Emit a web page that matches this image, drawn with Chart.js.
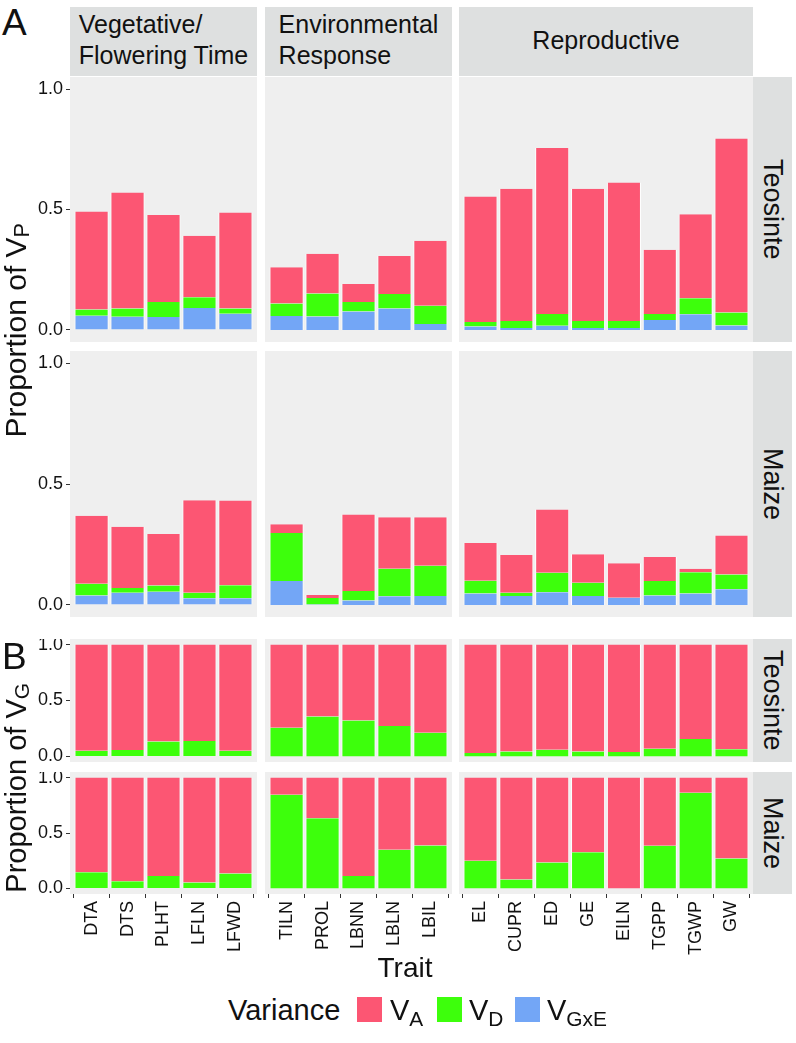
<!DOCTYPE html>
<html><head><meta charset="utf-8">
<script src="https://cdn.jsdelivr.net/npm/chart.js@4/dist/chart.umd.min.js"></script>
<style>
html,body{margin:0;padding:0;background:#fff}
body{width:796px;height:1043px;position:relative;overflow:hidden;font-family:"Liberation Sans",Arial,Helvetica,sans-serif;color:#111}
.abs{position:absolute;white-space:nowrap;line-height:1}
.cstrip{position:absolute;background:#DEE0E0;display:flex;align-items:center;justify-content:center;font-size:25px;line-height:31px;padding-bottom:3px;box-sizing:border-box}
.cstrip div{text-align:left}
.rstrip{position:absolute;background:#DEE0E0;display:flex;align-items:center;justify-content:center;font-size:27px}
.rstrip span{writing-mode:vertical-rl;line-height:1}
.ytitle{position:absolute;display:flex;align-items:center;justify-content:center;font-size:30px}
.ytitle span.t{writing-mode:vertical-rl;transform:rotate(180deg);line-height:1;white-space:nowrap}
.ytitle .vsub{font-size:0.72em;vertical-align:-0.28em}
.sub{font-size:0.72em;position:relative;top:0.28em}
.key{position:absolute;width:25px;height:25px}
canvas{position:absolute}
</style></head><body>
<script>
// ---------------- data ----------------
const groupNames = ["Vegetative/<br>Flowering Time", "Environmental<br>Response", "Reproductive"];
const traits = ["DTA","DTS","PLHT","LFLN","LFWD","TILN","PROL","LBNN","LBLN","LBIL","EL","CUPR","ED","GE","EILN","TGPP","TGWP","GW"];
const traitGroup = [0,0,0,0,0,1,1,1,1,1,2,2,2,2,2,2,2,2];
const yTickValues = [0, 0.5, 1.0];

// A: proportion of VP
const teosinteVP_VA   = [0.407,0.482,0.361,0.255,0.399, 0.150,0.165,0.075,0.158,0.270, 0.521,0.549,0.689,0.549,0.575,0.267,0.348,0.723];
const teosinteVP_VD   = [0.026,0.034,0.062,0.045,0.022, 0.052,0.095,0.039,0.060,0.075, 0.019,0.029,0.049,0.029,0.029,0.025,0.067,0.053];
const teosinteVP_VGxE = [0.059,0.055,0.054,0.091,0.067, 0.058,0.056,0.077,0.089,0.025, 0.014,0.008,0.017,0.008,0.008,0.041,0.065,0.019];
const maizeVP_VA      = [0.282,0.253,0.213,0.383,0.351, 0.037,0.012,0.316,0.213,0.200, 0.156,0.156,0.262,0.117,0.142,0.099,0.015,0.161];
const maizeVP_VD      = [0.048,0.020,0.026,0.022,0.053, 0.198,0.027,0.040,0.114,0.125, 0.053,0.013,0.081,0.055,0.000,0.060,0.088,0.061];
const maizeVP_VGxE    = [0.039,0.050,0.054,0.028,0.028, 0.099,0.002,0.018,0.036,0.037, 0.047,0.037,0.052,0.037,0.030,0.039,0.047,0.065];
// B: proportion of VG
const teosinteVG_VA   = [0.949,0.943,0.866,0.863,0.949, 0.743,0.642,0.678,0.728,0.788, 0.970,0.955,0.940,0.955,0.961,0.931,0.845,0.937];
const teosinteVG_VD   = [0.051,0.057,0.134,0.137,0.051, 0.257,0.358,0.322,0.272,0.212, 0.030,0.045,0.060,0.045,0.039,0.069,0.155,0.063];
const maizeVG_VA      = [0.854,0.935,0.887,0.946,0.866, 0.155,0.366,0.887,0.652,0.613, 0.750,0.920,0.765,0.673,1.000,0.616,0.137,0.729];
const maizeVG_VD      = [0.146,0.065,0.113,0.054,0.134, 0.845,0.634,0.113,0.348,0.387, 0.250,0.080,0.235,0.327,0.000,0.384,0.863,0.271];

// ---------------- style / layout ----------------
const COL_VA = "#FC5673", COL_VD = "#3DFF0C", COL_VGXE = "#73A6F6";
const PANEL_BG = "#EFEFEF";
const FONT = "'Liberation Sans', Arial, Helvetica, sans-serif";
const colX = [[70,257],[265,452],[459,753]];
const rowY = [[77,342],[351,617],[639,762],[772,894]];
const rows = [
  {strip:"Teosinte", series:[["VGxE",teosinteVP_VGxE,COL_VGXE],["VD",teosinteVP_VD,COL_VD],["VA",teosinteVP_VA,COL_VA]]},
  {strip:"Maize",    series:[["VGxE",maizeVP_VGxE,COL_VGXE],["VD",maizeVP_VD,COL_VD],["VA",maizeVP_VA,COL_VA]]},
  {strip:"Teosinte", series:[["VD",teosinteVG_VD,COL_VD],["VA",teosinteVG_VA,COL_VA]]},
  {strip:"Maize",    series:[["VD",maizeVG_VD,COL_VD],["VA",maizeVG_VA,COL_VA]]}
];

function el(tag, cls, html, style){
  const e=document.createElement(tag); if(cls) e.className=cls; if(html!=null) e.innerHTML=html;
  Object.assign(e.style, style||{}); document.body.appendChild(e); return e;
}
function txt(html, x, baseline, fs, extra){
  return el('div','abs',html,Object.assign({left:x+'px', top:(baseline-0.8465*fs)+'px', fontSize:fs+'px'}, extra||{}));
}

const bgPlugin = {
  id:'panelbg',
  beforeDraw(chart){
    const a=chart.chartArea, ctx=chart.ctx;
    ctx.save(); ctx.fillStyle=PANEL_BG; ctx.fillRect(a.left,a.top,a.right-a.left,a.bottom-a.top); ctx.restore();
  }
};

const LEFT_EXTRA = 50, BOTTOM_EXTRA = 80;

rows.forEach((row, r) => {
  [0,1,2].forEach(c => {
    const idx = traits.map((t,i)=>i).filter(i=>traitGroup[i]===c);
    const labels = idx.map(i=>traits[i]);
    const n = idx.length;
    const firstCol = c===0, lastRow = r===rows.length-1;
    const le = firstCol ? LEFT_EXTRA : 0, be = lastRow ? BOTTOM_EXTRA : 0;
    const w = colX[c][1]-colX[c][0], h = rowY[r][1]-rowY[r][0];
    const cv = document.createElement('canvas');
    cv.width = w+le; cv.height = h+be;
    cv.style.left = (colX[c][0]-le)+'px'; cv.style.top = rowY[r][0]+'px';
    cv.style.width = (w+le)+'px'; cv.style.height = (h+be)+'px';
    document.body.appendChild(cv);
    new Chart(cv, {
      type:'bar',
      data:{ datasets: row.series.map(s=>({
        label:s[0],
        data: idx.map((ti,k)=>({x:k+1, y:s[1][ti]})),
        backgroundColor:s[2], borderColor:'#ffffff',
        borderWidth:{left:1,right:1,top:0,bottom:0}, borderSkipped:false,
        barPercentage:0.95, categoryPercentage:1
      }))},
      options:{
        responsive:false, animation:false, devicePixelRatio:1,
        layout:{padding:0},
        plugins:{legend:{display:false}, tooltip:{enabled:false}},
        scales:{
          x:{ type:'linear', stacked:true, min:0.4, max:n+0.6, offset:false, display:lastRow,
              afterBuildTicks:s=>{ s.ticks = idx.map((t,k)=>({value:k+1})); },
              ticks:{ callback:v=>labels[Math.round(v)-1], minRotation:90, maxRotation:90, autoSkip:false,
                      font:{size:18, family:FONT}, color:'#111', padding:3 },
              grid:{ drawOnChartArea:false, drawTicks:true, tickLength:4, tickColor:'#333', tickWidth:1 },
              border:{display:false},
              afterFit:s=>{ s.height = be; s.paddingLeft=0; s.paddingRight=0; s.paddingTop=0; s.paddingBottom=0; }
          },
          y:{ stacked:true, min:-0.05, max:1.05, display:firstCol,
              afterBuildTicks:s=>{ s.ticks = yTickValues.map(v=>({value:v})); },
              ticks:{ callback:v=>v.toFixed(1), font:{size:18, family:FONT}, color:'#111', padding:3 },
              grid:{ drawOnChartArea:false, drawTicks:true, tickLength:4, tickColor:'#333', tickWidth:1 },
              border:{display:false},
              afterFit:s=>{ s.width = le; s.paddingTop=0; s.paddingBottom=0; s.paddingLeft=0; s.paddingRight=0; }
          }
        }
      },
      plugins:[bgPlugin]
    });
    if (c===2) {
      el('div','rstrip','<span>'+row.strip+'</span>',{left:'753px', top:rowY[r][0]+'px', width:'39px', height:h+'px'});
    }
  });
});

// column strips
groupNames.forEach((g,c)=>{
  el('div','cstrip','<div>'+g+'</div>',{left:colX[c][0]+'px', top:'7px', width:(colX[c][1]-colX[c][0])+'px', height:'69px'});
});

// panel letters
txt('A', 2, 35, 37);
txt('B', 2, 669, 37);

// y titles (centred boxes)
el('div','ytitle','<span class="t">Proportion of V<span class="vsub">P</span></span>',{left:'0px', top:'80px', width:'34px', height:'500px'});
el('div','ytitle','<span class="t">Proportion of V<span class="vsub">G</span></span>',{left:'0px', top:'684px', width:'34px', height:'208px', fontSize:'29px'});

// x title
txt('Trait', 305, 978, 28, {width:'200px', textAlign:'center'});

// legend
txt('Variance', 228, 1021, 29);
el('div','key',null,{left:'357px', top:'997px', background:COL_VA});
txt('V<span class="sub">A</span>', 390, 1021, 29);
el('div','key',null,{left:'437px', top:'997px', background:COL_VD});
txt('V<span class="sub">D</span>', 469, 1021, 29);
el('div','key',null,{left:'515px', top:'997px', background:COL_VGXE});
txt('V<span class="sub">GxE</span>', 547, 1021, 29);
</script>
</body></html>
